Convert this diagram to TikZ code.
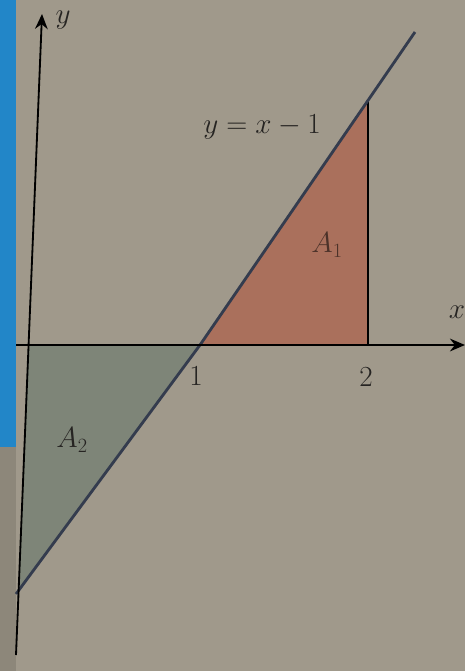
\documentclass[tikz,border=0pt]{standalone}
\usetikzlibrary{arrows.meta}
\definecolor{paper}{RGB}{160,153,139}
\definecolor{strip}{RGB}{34,134,200}
\definecolor{rose}{RGB}{170,112,92}
\definecolor{sage}{RGB}{126,133,120}
\definecolor{ink}{RGB}{52,60,78}
\definecolor{lettering}{RGB}{38,36,34}

\begin{document}
\begin{tikzpicture}[x=0.03cm, y=-0.03cm, every node/.style={text=lettering, font=\fontsize{25}{29}\selectfont},
	axis/.style={black, line width=0.065cm, -{Stealth[length=0.45cm, width=0.38cm]}}]
	\useasboundingbox (0,0) rectangle (465,671);
	\fill[paper] (0,0) rectangle (465,671);
	\fill[strip] (0,0) rectangle (16,447);
	\fill[paper!88!black] (0,447) rectangle (16,671);
	
	\coordinate (o) at (29,345);
	\coordinate (one) at (200,345);
	\coordinate (two) at (368,345);
	\coordinate (top) at (368,99);
	\coordinate (low) at (18.5,591);
	\coordinate (xs) at (16,345);
	\coordinate (xe) at (465,345);
	\coordinate (ys) at (16,655);
	\coordinate (ye) at (42,14);
	\coordinate (ls) at (16,594);
	\coordinate (le) at (415,32);
	
	\fill[rose] (one) -- (top) -- (two) -- cycle;
	\fill[sage] (o) -- (one) -- (low) -- cycle;
	
	\draw[black, line width=0.045cm] (two) -- (top);
	\draw[ink, line width=0.085cm] (ls) -- (one) -- (le);
	\draw[axis] (xs) -- (xe);
	\draw[axis, line width=0.055cm] (ys) -- (ye);
	
	\node (ylab) at (63,20) {$y$};
	\node (xlab) at (457,312) {$x$};
	\node (eq) at (262,127) {$y=x-1$};
	\node (a1) at (327,245) [text=rose!45!black] {$A_1$};
	\node (n1) at (196,376) {$1$};
	\node (n2) at (366,377) {$2$};
	\node (a2) at (72,440) {$A_2$};
	
\end{tikzpicture}
\end{document}
